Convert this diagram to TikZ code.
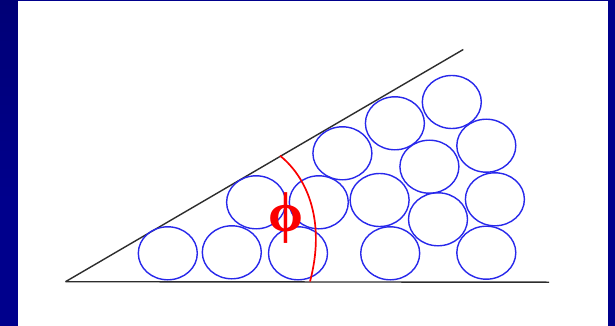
\documentclass[tikz,border=0pt]{standalone}
\usepackage{fontspec}
\usetikzlibrary{shapes.geometric}
\newfontfamily\phifont{Liberation Serif}
\definecolor{frame}{RGB}{0,0,140}
\definecolor{frameDark}{RGB}{0,0,118}
\definecolor{ball}{RGB}{40,40,235}
\definecolor{phired}{RGB}{250,0,0}
\definecolor{wedge}{RGB}{45,45,45}
\begin{document}
\begin{tikzpicture}[x=1pt,y=-1pt,
  grain/.style={draw=ball,line width=1.4pt,ellipse,minimum width=59pt,minimum height=53pt,inner sep=0pt},
  wall/.style={draw=wedge,line width=1.4pt},
  anglearc/.style={draw=phired,line width=1.7pt}]
\useasboundingbox (0,0) rectangle (615,326);
% frame
\fill[frame] (0,0) rectangle (615,326);
\shade[top color=frameDark,bottom color=frame] (0,0) rectangle (18,200);
\fill[white] (18,1.2) rectangle (608.3,326);
% walls
\coordinate (v) at (65.5,281.7);
\coordinate (top) at (463.3,49.5);
\coordinate (base) at (549,282.2);
\draw[wall] (v) -- (top);
\draw[wall] (v) -- (base);
% grains
\foreach \n/\x/\y in {g1/167.8/253.3,g2/231.8/252.3,g3/298/253.3,g4/390.2/253.3,g5/486.3/252.7,
  g6/256.1/202.3,g7/318.8/202.3,g8/379.6/200,g9/438/219.3,g10/494.9/199.3,
  g11/342.4/153.3,g12/429.4/166.7,g13/486.3/145.7,g14/394.9/123.3,g15/451.8/102}
  \node[grain] (\n) at (\x,\y) {};
% angle arc
\coordinate (a0) at (280,155.7);
\coordinate (a1) at (310,281.5);
\draw[anglearc] (a0) .. controls (310,180) and (325,225) .. (a1);
\node[text=phired,inner sep=0pt,font=\phifont\bfseries\fontsize{56}{56}\selectfont] (phi) at (285.5,218) {ϕ};
\end{tikzpicture}
\end{document}
